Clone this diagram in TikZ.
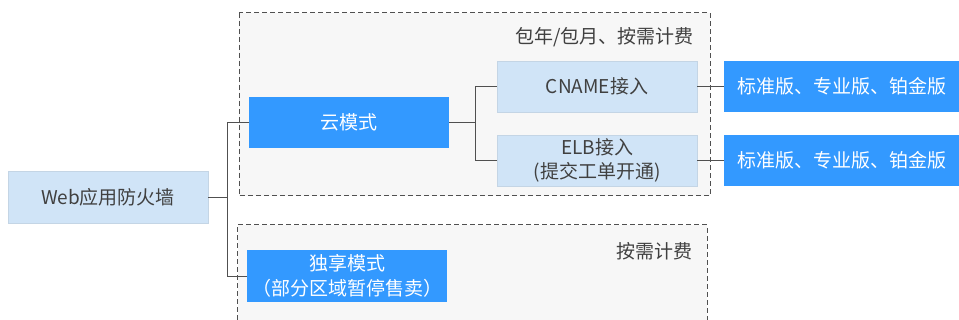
\documentclass[tikz,border=0pt]{standalone}
\usepackage{fontspec}
\setmainfont{Noto Sans CJK SC}
\definecolor{lightbox}{HTML}{D0E4F7}
\definecolor{bluebox}{HTML}{3399FF}
\definecolor{groupfill}{HTML}{F7F7F7}
\definecolor{txt}{HTML}{404040}
\definecolor{linec}{HTML}{505050}
\begin{document}
\begin{tikzpicture}[x=1pt,y=-1pt,
  every node/.style={font=\fontsize{19}{24.5}\selectfont, align=center, inner sep=0pt},
  lbox/.style={fill=lightbox, draw=lightbox!85!gray, line width=0.6pt, text=txt, minimum width=200pt},
  bbox/.style={fill=bluebox, text=white, minimum width=200pt},
  grp/.style={draw=linec, dashed, dash pattern=on 5pt off 3pt, line width=1pt, fill=groupfill},
  conn/.style={draw=linec, line width=0.9pt},
  lab/.style={text=txt, anchor=east}]
\useasboundingbox (0,0) rectangle (959,320);
% groups
\draw[grp] (239,13) rectangle (710,196);
\fill[groupfill] (237.5,225.5) rectangle (706.5,320);
\draw[grp, fill=none] (237,320) -- (237,225) -- (707,225) -- (707,320);
\node[lab] (l1) at (694,37) {包年/包月、按需计费};
\node[lab] (l2) at (693,251) {按需计费};
% nodes
\node[lbox, minimum height=52pt] (web) at (108,197) {Web应用防火墙};
\node[bbox, minimum height=51pt] (cloud) at (349,122.5) {云模式};
\node[bbox, minimum height=52pt] (excl) at (347,276) {独享模式\\（部分区域暂停售卖）};
\node[lbox, minimum height=51pt] (cname) at (597,86.5) {CNAME接入};
\node[lbox, minimum height=51pt] (elb) at (597,160.5) {ELB接入\\(提交工单开通)};
\node[bbox, minimum width=236pt, minimum height=51pt, text width=230pt] (e1) at (842,86.5) {标准版、专业版、铂金版};
\node[bbox, minimum width=236pt, minimum height=51pt, text width=230pt] (e2) at (842,160.5) {标准版、专业版、铂金版};
% connectors
\coordinate (j1) at (227,197);
\coordinate (j2) at (475,122.5);
\draw[conn] (web.east) -- (j1);
\draw[conn] (j1) |- (cloud.west);
\draw[conn] (j1) |- (excl.west);
\draw[conn] (cloud.east) -- (j2);
\draw[conn] (j2) |- (cname.west);
\draw[conn] (j2) |- (elb.west);
\draw[conn] (cname.east) -- (e1.west);
\draw[conn] (elb.east) -- (e2.west);
\end{tikzpicture}
\end{document}
